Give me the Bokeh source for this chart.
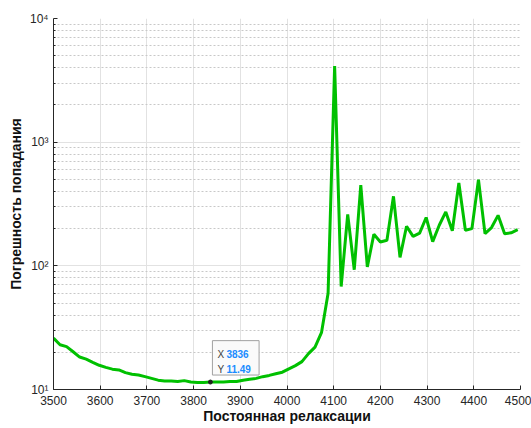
from bokeh.plotting import figure
from bokeh.models import FixedTicker, CustomJSTickFormatter, Label, ColumnDataSource
from bokeh.embed import file_html
from bokeh.resources import INLINE

# ---- data ----
x_start = 3500
x_step = 14
error_values = [
    26.0, 23.0, 22.2, 20.2, 18.3, 17.6, 16.6, 15.7, 15.1, 14.6,
    14.4, 13.7, 13.3, 13.1, 12.7, 12.3, 11.9, 11.7, 11.7, 11.6,
    11.8, 11.5, 11.4, 11.4, 11.49, 11.5, 11.5, 11.6, 11.6, 11.9,
    12.1, 12.3, 12.7, 13.0, 13.4, 13.8, 14.7, 15.6, 16.8, 19.5,
    22.0, 29.0, 60.0, 4120.0, 68.0, 261.0, 93.0, 449.0, 98.0, 180.0,
    156.0, 161.0, 365.0, 117.0, 209.0, 173.0, 184.0, 246.0, 157.0, 213.0,
    273.0, 192.0, 468.0, 194.0, 200.0, 498.0, 182.0, 204.0, 256.0, 182.0,
    185.0, 196.0,
]
relax_const = [x_start + x_step * i for i in range(len(error_values))]

x_ticks = [3500, 3600, 3700, 3800, 3900, 4000, 4100, 4200, 4300, 4400, 4500]
y_ticks = [10, 100, 1000, 10000]
y_minor = [m * d for d in [10, 100, 1000] for m in range(2, 10)]

tip_x = 3836
tip_y = 11.49

x_label = "Постоянная релаксации"
y_label = "Погрешность попадания"

# ---- figure ----
p = figure(width=531, height=428, y_axis_type="log",
           x_range=(3500, 4500), y_range=(10, 10000),
           output_backend="svg", toolbar_location=None,
           min_border_left=53, min_border_right=11,
           min_border_top=18, min_border_bottom=39)
p.outline_line_color = None
p.background_fill_color = "white"
p.border_fill_color = "white"

font = "Liberation Sans"
axis_col = "#262626"

# x axis
p.xaxis.ticker = FixedTicker(ticks=x_ticks)
p.xaxis.major_label_text_font = font
p.xaxis.major_label_text_font_size = "12px"
p.xaxis.major_label_text_color = axis_col
p.xaxis.axis_line_color = axis_col
p.xaxis.major_tick_line_color = axis_col
p.xaxis.major_tick_in = 4
p.xaxis.major_tick_out = 0
p.xaxis.minor_tick_line_color = None
p.xaxis.major_label_standoff = 6
p.xaxis.axis_label = x_label
p.xaxis.axis_label_text_font = font
p.xaxis.axis_label_text_font_style = "bold"
p.xaxis.axis_label_text_font_size = "14px"
p.xaxis.axis_label_text_color = "#111111"
p.xaxis.axis_label_standoff = 0

# y axis
p.yaxis.ticker = FixedTicker(ticks=y_ticks, minor_ticks=y_minor)
p.yaxis.formatter = CustomJSTickFormatter(code="""
const sup = {0:'\u2070',1:'\u00b9',2:'\u00b2',3:'\u00b3',4:'\u2074',5:'\u2075'};
const e = Math.round(Math.log10(tick));
return '10' + sup[e];
""")
p.yaxis.major_label_text_font = font
p.yaxis.major_label_text_font_size = "12px"
p.yaxis.major_label_text_color = axis_col
p.yaxis.axis_line_color = axis_col
p.yaxis.major_tick_line_color = axis_col
p.yaxis.minor_tick_line_color = axis_col
p.yaxis.major_tick_in = 4
p.yaxis.major_tick_out = 0
p.yaxis.minor_tick_in = 2
p.yaxis.minor_tick_out = 0
p.yaxis.major_label_standoff = 5
p.yaxis.axis_label = y_label
p.yaxis.axis_label_text_font = font
p.yaxis.axis_label_text_font_style = "bold"
p.yaxis.axis_label_text_font_size = "14px"
p.yaxis.axis_label_text_color = "#111111"
p.yaxis.axis_label_standoff = 3

# grids
p.xgrid.grid_line_color = "#e2e2e2"
p.ygrid.grid_line_color = "#e2e2e2"
p.ygrid.minor_grid_line_color = "#c8c8c8"
p.ygrid.minor_grid_line_dash = "2 2"

# line
src = ColumnDataSource(dict(x=relax_const, y=error_values))
p.line("x", "y", source=src, line_color="#00c000", line_width=3)

# data tip
p.scatter([tip_x], [tip_y], size=4, color="#202020")
tip_font = "10px"
box = Label(x=tip_x, y=tip_y, x_offset=2, y_offset=7, text="X\nY",
            text_font=font, text_font_size=tip_font, text_color="#404040",
            text_align="left", text_baseline="bottom", text_line_height=1.4,
            background_fill_color="#fafafa", border_line_color="#a0a0a0",
            padding=dict(left=5, right=35, top=8, bottom=0))
p.add_layout(box)
vals = Label(x=tip_x, y=tip_y, x_offset=16, y_offset=7,
             text=f"{tip_x}\n{tip_y}",
             text_font=font, text_font_size=tip_font, text_color="#1a8cff",
             text_font_style="bold", text_align="left", text_baseline="bottom",
             text_line_height=1.4)
p.add_layout(vals)

open("out.html", "w").write(file_html(p, INLINE))
